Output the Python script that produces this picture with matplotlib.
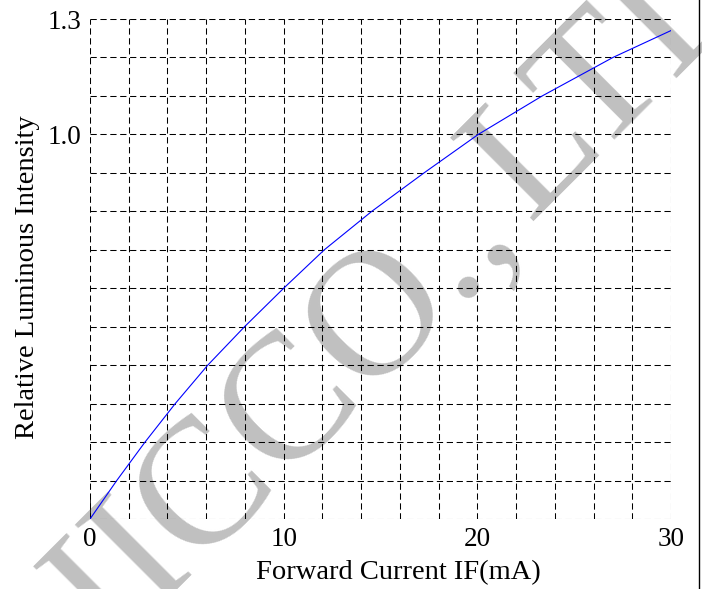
import matplotlib
matplotlib.use('Agg')
import matplotlib.pyplot as plt
from matplotlib.lines import Line2D

plt.rcParams['font.family'] = ['Liberation Serif', 'DejaVu Serif']

# curve
current_ma = [0, 1.38, 2.84, 4.4, 6.08, 7.98, 10.0, 12.1, 14.55, 17.25, 20.05, 23.35, 27.0, 30]
rel_intensity = [0, 0.1, 0.2, 0.3, 0.4, 0.5, 0.6, 0.7, 0.8, 0.9, 1.0, 1.1, 1.2, 1.27]

x_ticks = [0, 10, 20, 30]
y_ticks = [1.0, 1.3]
x_grid = list(range(0, 31, 2))
y_grid = [i / 10 for i in range(14)]

fig = plt.figure(figsize=(7.02, 5.89), dpi=100)
ax = fig.add_axes([0.1282, 0.1188, 0.8276, 0.8489])
ax.patch.set_alpha(0)

# watermark behind everything (two pieces along one diagonal baseline)
wm = dict(rotation=45, rotation_mode='anchor', ha='left', va='baseline',
          fontsize=129.6, color='#c0c0c0', zorder=-5)
fig.text(0.1573, -0.1029, 'IICCO.,', **wm)
fig.text(0.7536, 0.6248, 'LTD', **wm)

dash = (0, (6, 3.5))
for gx in x_grid:
    ax.axvline(gx, color='k', lw=0.75, linestyle=dash, zorder=1)
for gy in y_grid:
    ax.axhline(gy, color='k', lw=0.75, linestyle=dash, zorder=1)

ax.plot(current_ma, rel_intensity, color='#0000ff', lw=0.8, zorder=3,
        solid_joinstyle='round')
ax.axvline(0, ymin=0, ymax=0.048, color='k', lw=1.2, zorder=2)

ax.set_xlim(0, 30)
ax.set_ylim(0, 1.3)
ax.set_xticks(x_ticks)
ax.set_xticklabels([str(t) for t in x_ticks])
ax.set_yticks(y_ticks)
ax.set_yticklabels(['%.1f' % t for t in y_ticks])
ax.tick_params(length=0, labelsize=19.5, pad=6)
for s in ax.spines.values():
    s.set_visible(False)

ax.set_xlabel('Forward Current IF(mA)', fontsize=20.5)
ax.set_ylabel('Relative Luminous Intensity', fontsize=20.5)
ax.xaxis.set_label_coords(0.53, -0.082)
ax.yaxis.set_label_coords(-0.086, 0.484)

fig.add_artist(Line2D([0.9957, 0.9957], [0, 1], transform=fig.transFigure,
                      color='k', lw=1.0))

fig.savefig('out.png', dpi=100)
